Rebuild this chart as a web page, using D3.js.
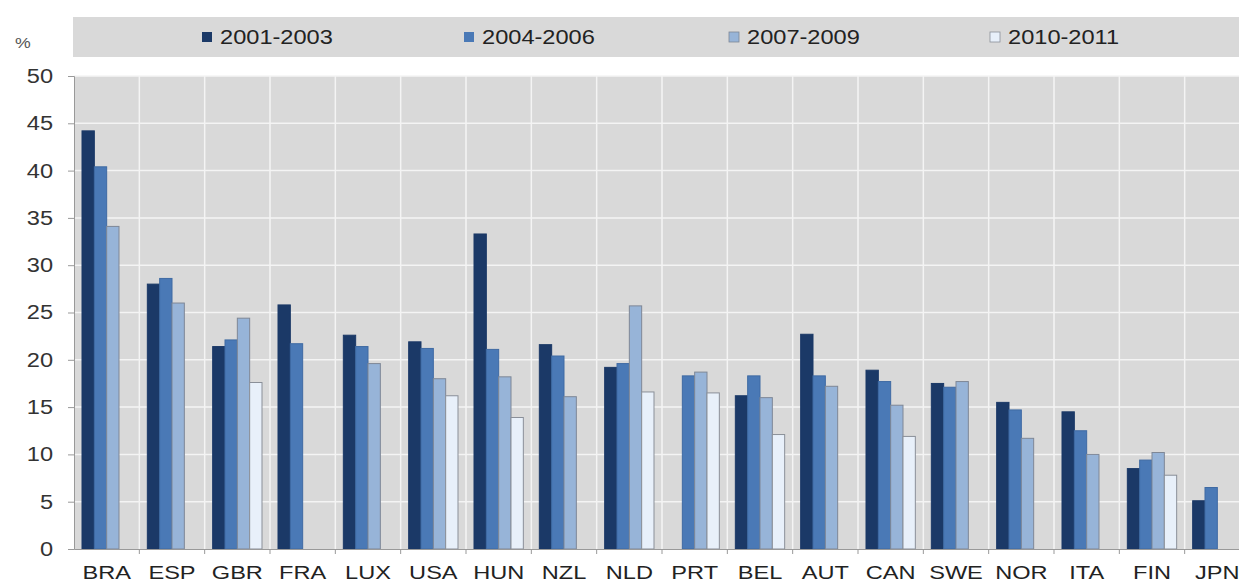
<!DOCTYPE html>
<html><head><meta charset="utf-8">
<script src="https://cdn.jsdelivr.net/npm/d3@7/dist/d3.min.js"></script>
<style>body{margin:0;background:#fff;overflow:hidden}svg{display:block;font-family:"Liberation Sans",Arial,sans-serif}</style>
</head><body><svg id="c" width="1239" height="584"></svg>
<script>
const categories = ["BRA","ESP","GBR","FRA","LUX","USA","HUN","NZL","NLD","PRT","BEL","AUT","CAN","SWE","NOR","ITA","FIN","JPN"];
const seriesNames = ["2001-2003","2004-2006","2007-2009","2010-2011"];
const s2001 = [44.2,28.0,21.4,25.8,22.6,21.9,33.3,21.6,19.2,null,16.2,22.7,18.9,17.5,15.5,14.5,8.5,5.1];
const s2004 = [40.4,28.6,22.1,21.7,21.4,21.2,21.1,20.4,19.6,18.3,18.3,18.3,17.7,17.1,14.7,12.5,9.4,6.5];
const s2007 = [34.1,26.0,24.4,null,19.6,18.0,18.2,16.1,25.7,18.7,16.0,17.2,15.2,17.7,11.7,10.0,10.2,null];
const s2010 = [null,null,17.6,null,null,16.2,13.9,null,16.6,16.5,12.1,null,11.9,null,null,null,7.8,null];
const yTicks = [0,5,10,15,20,25,30,35,40,45,50];
const seriesValues = [s2001,s2004,s2007,s2010];
const colors = ["#1b3967","#4a79b6","#97b4d8","#e8f0fa"];
const strokes = ["#1b3967","#3f6aa3","#7e8796","#8a8f98"];

function stretch(sel, k) {
  sel.each(function() {
    const len = this.getComputedTextLength();
    d3.select(this).attr("textLength", len * k).attr("lengthAdjust", "spacingAndGlyphs");
  });
}

const svg = d3.select("#c");
const pLeft = 74, pRight = 1250, pTop = 76, pBottom = 549;
const x = d3.scaleBand().domain(categories).range([pLeft, pRight]).paddingInner(0).paddingOuter(0);
const xs = d3.scaleBand().domain(seriesNames).range([8, x.bandwidth() - 8]).padding(0);
const y = d3.scaleLinear().domain([0, 50]).range([pBottom, pTop]);

// legend band
svg.append("rect").attr("x", 73).attr("y", 17).attr("width", 1239).attr("height", 40).attr("fill", "#d9d9d9");
svg.append("text").attr("x", 15).attr("y", 48).attr("font-size", 15).attr("fill", "#555").text("%").call(stretch, 1.18);
const legX = [202, 464, 729, 990];
seriesNames.forEach((n, i) => {
  const g = svg.append("g").attr("transform", `translate(${legX[i]},0)`);
  g.append("rect").attr("x", 0).attr("y", 32).attr("width", 10).attr("height", 10)
    .attr("fill", colors[i]).attr("stroke", i >= 2 ? strokes[i] : "none").attr("stroke-width", 0.8);
  g.append("text").attr("x", 18).attr("y", 43.5).attr("font-size", 20).attr("fill", "#222").text(n).call(stretch, 1.18);
});

// plot background
svg.append("rect").attr("x", pLeft).attr("y", pTop).attr("width", pRight - pLeft).attr("height", pBottom - pTop).attr("fill", "#d9d9d9");

// grid
svg.append("g").selectAll("line").data(yTicks.slice(1)).join("line")
  .attr("x1", pLeft).attr("x2", pRight).attr("y1", d => y(d)).attr("y2", d => y(d))
  .attr("stroke", "#f4f4f4").attr("stroke-width", 1.5);
svg.append("g").selectAll("line").data(categories.slice(1)).join("line")
  .attr("x1", d => x(d)).attr("x2", d => x(d)).attr("y1", pTop).attr("y2", pBottom)
  .attr("stroke", "#f4f4f4").attr("stroke-width", 1.5);

// bars
const groups = svg.append("g").selectAll("g").data(categories).join("g")
  .attr("transform", d => `translate(${x(d)},0)`);
groups.selectAll("rect").data((c, ci) => seriesNames.map((s, si) => ({s, si, v: seriesValues[si][ci]})).filter(d => d.v != null))
  .join("rect")
  .attr("x", d => xs(d.s)).attr("width", xs.bandwidth())
  .attr("y", d => y(d.v)).attr("height", d => y(0) - y(d.v))
  .attr("fill", d => colors[d.si]).attr("stroke", d => strokes[d.si]).attr("stroke-width", 1);

// axes
const yAxis = d3.axisLeft(y).tickValues(yTicks).tickSize(6).tickPadding(15);
const ya = svg.append("g").attr("transform", `translate(${pLeft},0)`).call(yAxis);
ya.selectAll("text").attr("font-size", 20).attr("fill", "#333").attr("font-family", "Liberation Sans, Arial, sans-serif").call(stretch, 1.18);
ya.selectAll("line,path").attr("stroke", "#999");

const xAxis = d3.axisBottom(x).tickSize(0).tickPadding(0);
const xa = svg.append("g").attr("transform", `translate(0,${pBottom})`).call(xAxis);
xa.selectAll("text").attr("font-size", 19).attr("fill", "#222").attr("font-family", "Liberation Sans, Arial, sans-serif").attr("dy", null).attr("y", 30).call(stretch, 1.24);
xa.select("path").attr("stroke", "#999");
xa.selectAll(".bt").data(categories.slice(1)).join("line").attr("class", "bt")
  .attr("x1", d => x(d)).attr("x2", d => x(d)).attr("y1", 0).attr("y2", 5).attr("stroke", "#999");
</script></body></html>
